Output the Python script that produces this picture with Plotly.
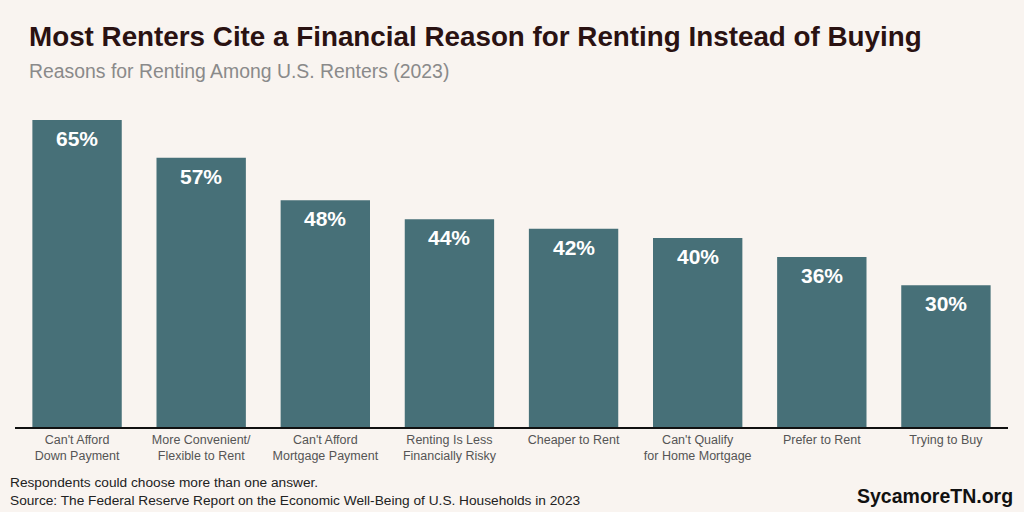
import plotly.graph_objects as go

categories = ["Can't Afford<br>Down Payment", "More Convenient/<br>Flexible to Rent",
              "Can't Afford<br>Mortgage Payment", "Renting Is Less<br>Financially Risky",
              "Cheaper to Rent", "Can't Qualify<br>for Home Mortgage",
              "Prefer to Rent", "Trying to Buy"]
values = [65, 57, 48, 44, 42, 40, 36, 30]
labels = [f"{v}%" for v in values]

BG = "#f9f4f0"
BAR = "#477078"
FONT = "Liberation Sans, Arial, sans-serif"

fig = go.Figure()
fig.add_trace(go.Bar(x=categories, y=values, marker=dict(color=BAR, line=dict(width=0)),
                     hoverinfo="skip"))

for c, v, t in zip(categories, values, labels):
    fig.add_annotation(x=c, y=v, text=f"<b>{t}</b>", showarrow=False,
                       yanchor="top", yshift=-5,
                       font=dict(family=FONT, size=21, color="white"))

fig.update_layout(
    width=1024, height=512,
    paper_bgcolor=BG, plot_bgcolor=BG,
    margin=dict(l=15, r=16, t=120, b=85),
    bargap=0.28,
    showlegend=False,
    xaxis=dict(showline=True, linecolor="#111", linewidth=2, ticks="", showgrid=False,
               tickfont=dict(family=FONT, size=12.5, color="#555"), fixedrange=True),
    yaxis=dict(range=[0, 65], visible=False, showgrid=False, fixedrange=True),
    font=dict(family=FONT),
)

fig.add_annotation(xref="paper", yref="paper", x=0, y=1, xanchor="left", yanchor="top",
                   xshift=12, yshift=101, showarrow=False,
                   text="<b>Most Renters Cite a Financial Reason for Renting Instead of Buying</b>",
                   font=dict(family=FONT, size=27.8, color="#2a1212"))
fig.add_annotation(xref="paper", yref="paper", x=0, y=1, xanchor="left", yanchor="top",
                   xshift=12, yshift=62, showarrow=False,
                   text="Reasons for Renting Among U.S. Renters (2023)",
                   font=dict(family=FONT, size=19.4, color="#8a8a8a"))
fig.add_annotation(xref="paper", yref="paper", x=0, y=0, xanchor="left", yanchor="top",
                   xshift=-7, yshift=-46, showarrow=False, align="left",
                   text="Respondents could choose more than one answer.<br>Source: The Federal Reserve Report on the Economic Well-Being of U.S. Households in 2023",
                   font=dict(family=FONT, size=13.7, color="#222"))
fig.add_annotation(xref="paper", yref="paper", x=1, y=0, xanchor="right", yanchor="top",
                   xshift=7, yshift=-56, showarrow=False,
                   text="<b>SycamoreTN.org</b>",
                   font=dict(family=FONT, size=19.5, color="#111"))

fig.write_html("out.html")
